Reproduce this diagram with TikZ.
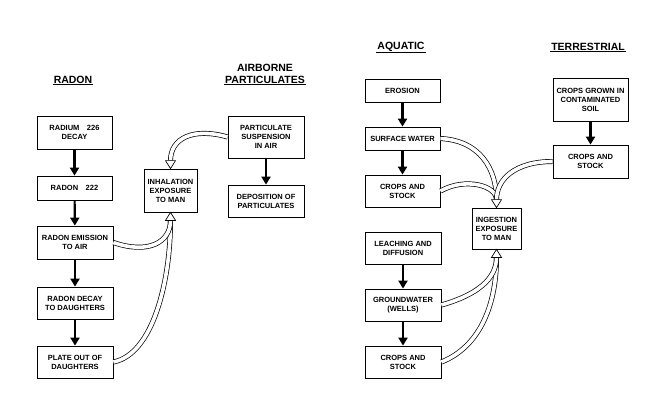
\documentclass[tikz,border=0pt]{standalone}
\usepackage{fontspec}
\setmainfont{Liberation Sans}
\usetikzlibrary{arrows.meta,calc}
\tikzset{
  box/.style={draw, line width=0.8pt, inner sep=0pt, align=center,
    font=\bfseries\fontsize{7.5}{9}\selectfont},
  ttl/.style={inner sep=1pt, align=center, font=\bfseries\fontsize{10.5}{12}\selectfont},
  uline/.style={line width=1.1pt},
  flow/.style={line width=2.2pt, -{Triangle[width=9pt,length=8pt]}},
  band/.style={draw, line width=0.7pt, double=white, double distance=3.6pt},
  hhead/.style={draw, fill=white, line width=0.7pt, line join=miter}
}
\begin{document}
\begin{tikzpicture}[x=1pt,y=-1pt]
\useasboundingbox (0,0) rectangle (660,405);
% titles
\node[ttl] (tR) at (73,80) {RADON};
\node[ttl] (tA) at (265,74) {AIRBORNE\\PARTICULATES};
\node[ttl] (tQ) at (401,47) {AQUATIC};
\node[ttl] (tT) at (588,47) {TERRESTRIAL};
\foreach \t in {tR,tA,tQ,tT}{\draw[uline] (\t.south west) -- (\t.south east);}
% radon boxes
\node[box, minimum width=75, minimum height=33] (r1) at (74.5,132.5) {RADIUM\quad 226\\DECAY};
\node[box, minimum width=75, minimum height=24] (r2) at (74.5,188) {RADON\quad 222};
\node[box, minimum width=76, minimum height=33] (r3) at (75,242.5) {RADON EMISSION\\TO AIR};
\node[box, minimum width=76, minimum height=32] (r4) at (75,303) {RADON DECAY\\TO DAUGHTERS};
\node[box, minimum width=76, minimum height=32] (r5) at (75,362) {PLATE OUT OF\\DAUGHTERS};
\node[box, minimum width=53, minimum height=43] (inh) at (170.5,190.5) {INHALATION\\EXPOSURE\\TO MAN};
\node[box, minimum width=76, minimum height=42] (ps) at (266,137) {PARTICULATE\\SUSPENSION\\IN AIR};
\node[box, minimum width=76, minimum height=32] (dep) at (266,201) {DEPOSITION OF\\PARTICULATES};
% aquatic / terrestrial boxes
\node[box, minimum width=75, minimum height=23] (ero) at (402.5,90.5) {EROSION};
\node[box, minimum width=75, minimum height=23] (sw) at (402.5,138.5) {SURFACE WATER};
\node[box, minimum width=75, minimum height=32] (cs1) at (402.5,191) {CROPS AND\\STOCK};
\node[box, minimum width=75, minimum height=43] (cg) at (590.5,99.5) {CROPS GROWN IN\\CONTAMINATED\\SOIL};
\node[box, minimum width=75, minimum height=33] (cs3) at (590.5,161.5) {CROPS AND\\STOCK};
\node[box, minimum width=49, minimum height=41] (ing) at (496.5,228.5) {INGESTION\\EXPOSURE\\TO MAN};
\node[box, minimum width=76, minimum height=32] (lea) at (403,248) {LEACHING AND\\DIFFUSION};
\node[box, minimum width=76, minimum height=32] (gw) at (403,305) {GROUNDWATER\\(WELLS)};
\node[box, minimum width=76, minimum height=32] (cs2) at (403,362) {CROPS AND\\STOCK};
% black flow arrows
\draw[flow] (r1) -- (r2);
\draw[flow] (r2) -- (r3);
\draw[flow] (r3) -- (r4);
\draw[flow] (r4) -- (r5);
\draw[flow] (ps) -- (dep);
\draw[flow] (ero) -- (sw);
\draw[flow] (sw) -- (cs1);
\draw[flow] (cg) -- (cs3);
\draw[flow] (lea) -- (gw);
\draw[flow] (gw) -- (cs2);
% head base coordinates
\coordinate (inhT) at ($(inh.north)+(0,-8)$);
\coordinate (inhB) at ($(inh.south)+(0,8)$);
\coordinate (ingT) at ($(ing.north)+(0,-8)$);
\coordinate (ingB) at ($(ing.south)+(0,8)$);
% hollow bands
\draw[band] (ps.west) .. controls +(-35,-10) and +(0,-22) .. (inhT);
\draw[band] (r5.east) .. controls +(40,-8) and +(0,60) .. (inhB);
\draw[band] (r3.east) .. controls +(35,12) and +(0,22) .. (inhB);
\draw[band] (sw.east) .. controls +(40,2) and +(0,-30) .. (ingT);
\draw[band] (cs1.east) .. controls +(25,-14) and +(0,-14) .. (ingT);
\draw[band] (cs3.west) .. controls +(-38,0) and +(0,-20) .. (ingT);
\draw[band] (cs2.east) .. controls +(40,-16) and +(0,45) .. (ingB);
\draw[band] (gw.east) .. controls +(35,-10) and +(0,22) .. (ingB);
% hollow heads
\draw[hhead] (inh.north) -- ($(inhT)+(-5,0)$) -- ($(inhT)+(5,0)$) -- cycle;
\draw[hhead] (inh.south) -- ($(inhB)+(-5,0)$) -- ($(inhB)+(5,0)$) -- cycle;
\draw[hhead] (ing.north) -- ($(ingT)+(-5,0)$) -- ($(ingT)+(5,0)$) -- cycle;
\draw[hhead] (ing.south) -- ($(ingB)+(-5,0)$) -- ($(ingB)+(5,0)$) -- cycle;
\end{tikzpicture}
\end{document}
